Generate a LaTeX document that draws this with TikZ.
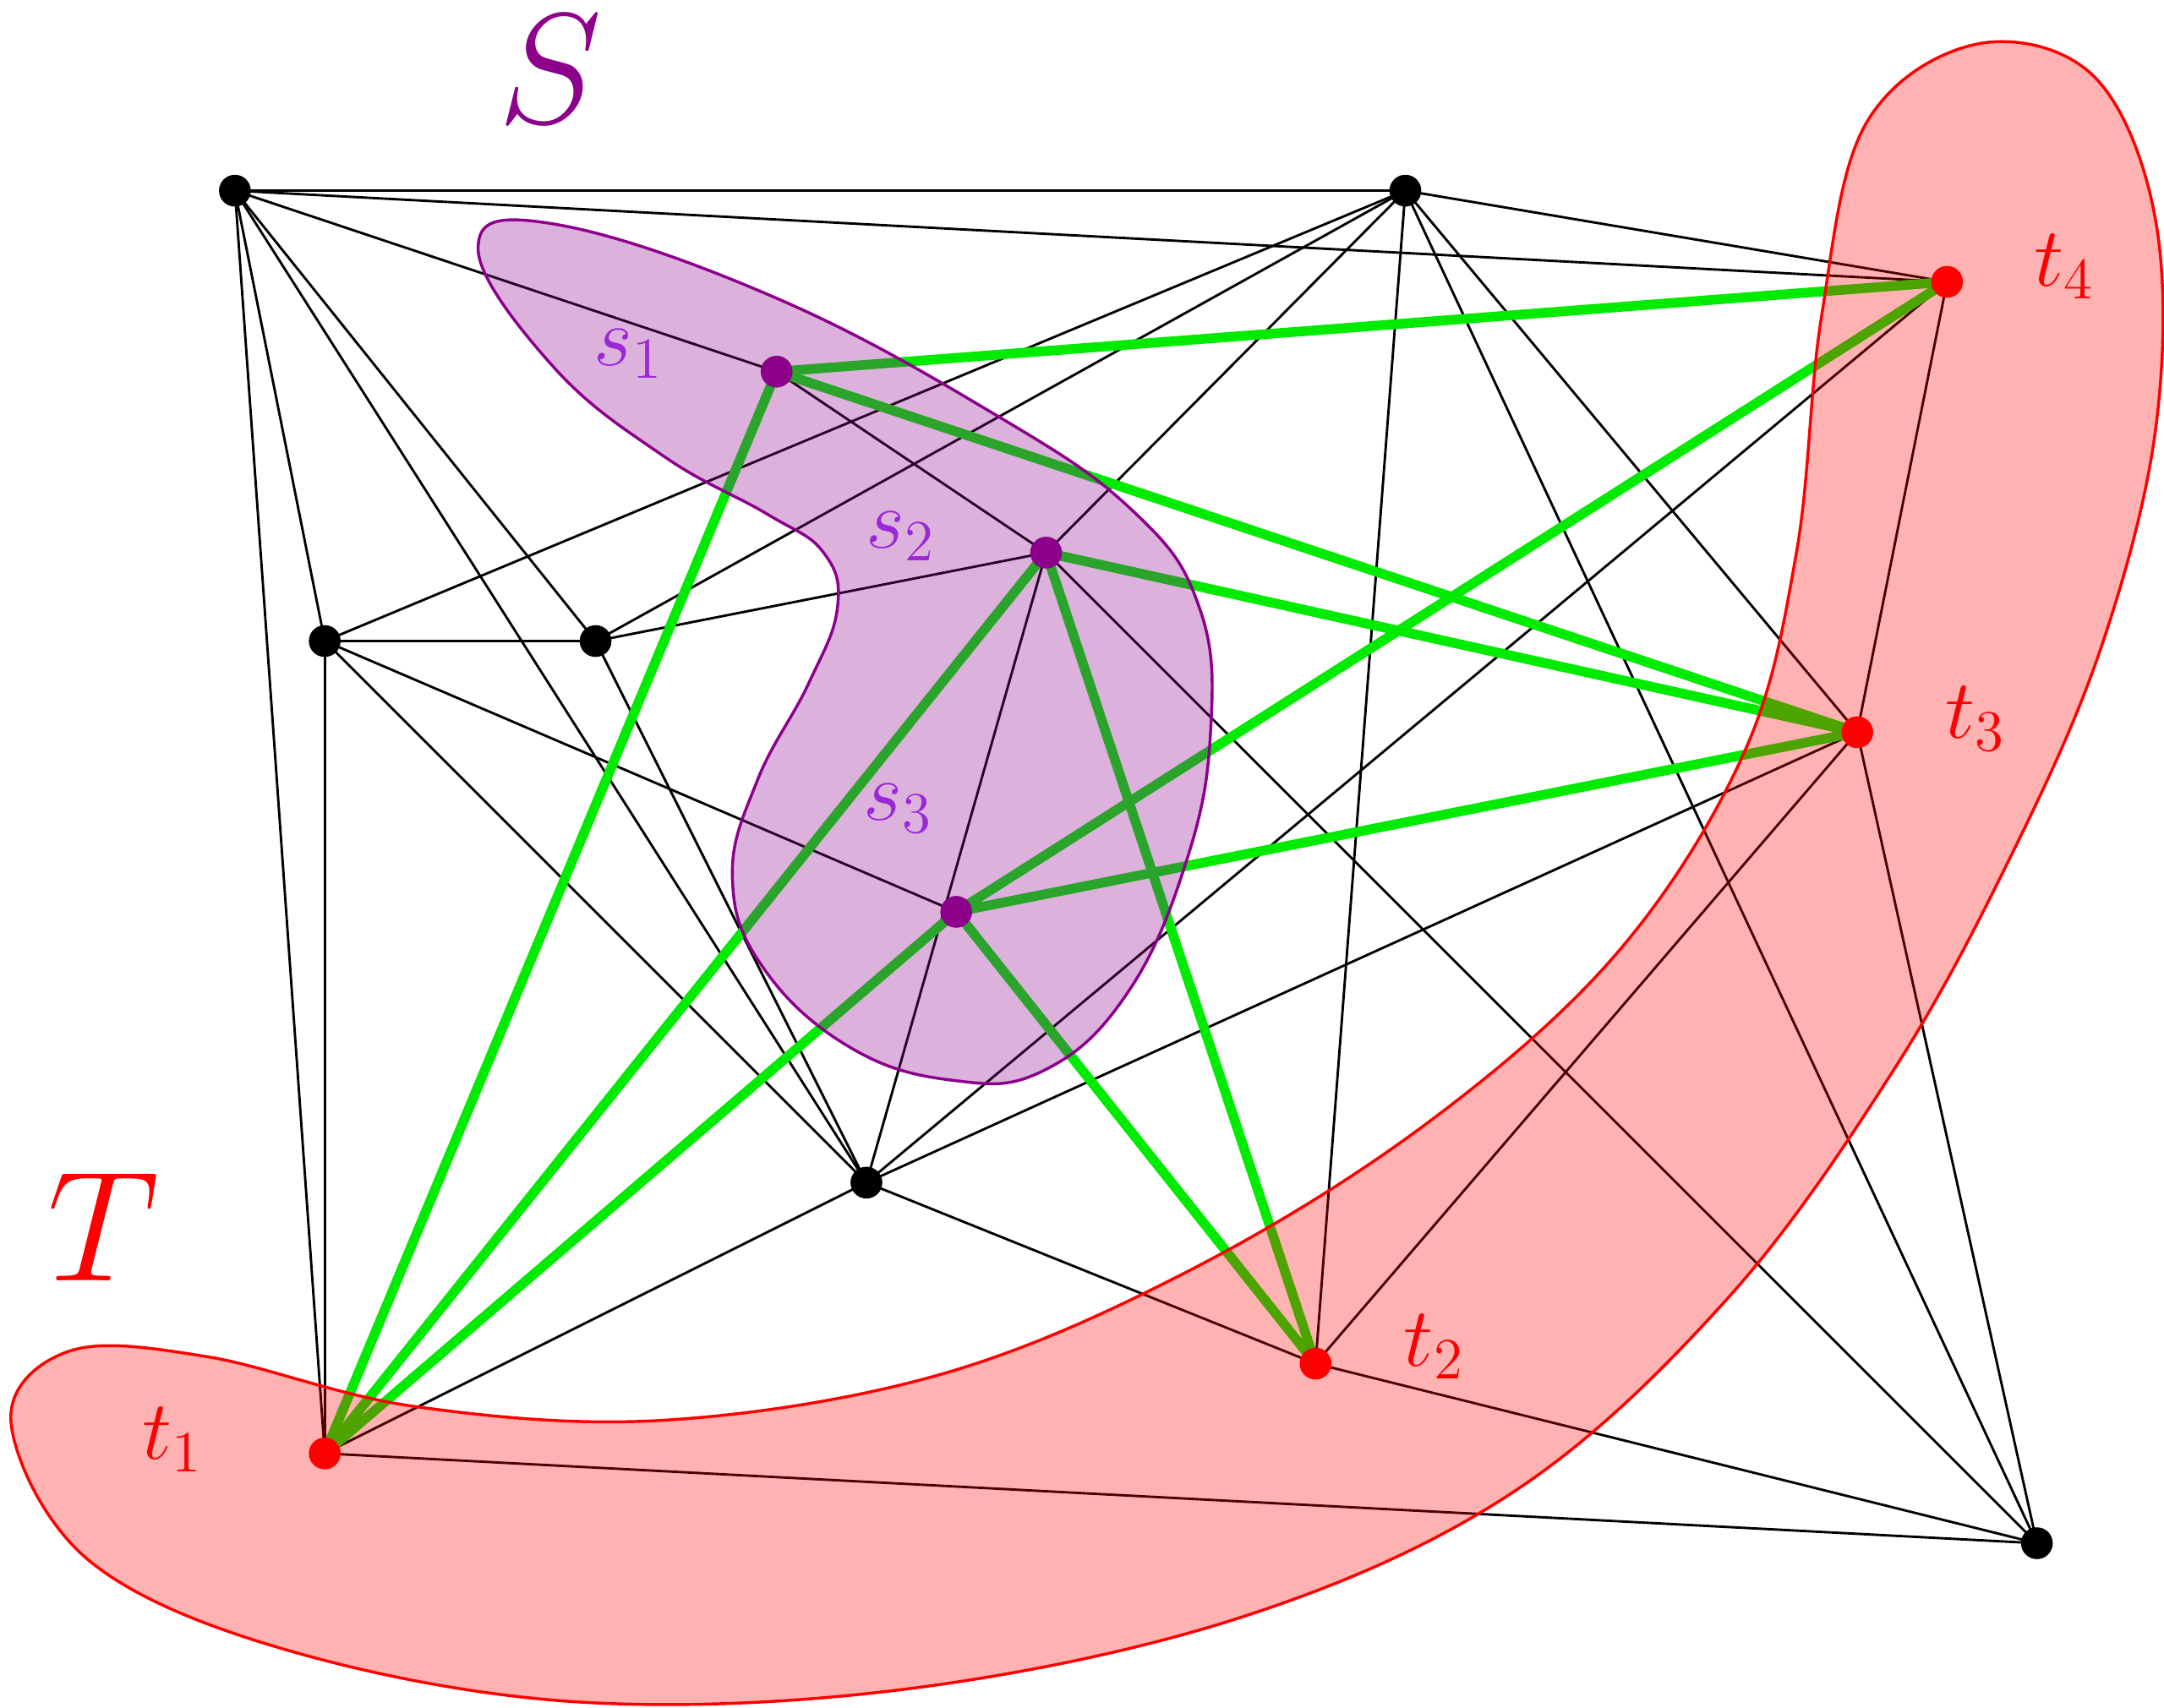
\documentclass[tikz,border=0pt]{standalone}
\usepackage{amsmath}
\usepackage{tikz}
\usetikzlibrary{positioning,calc}
\definecolor{sviolet}{RGB}{140,0,140}
\definecolor{slabel}{RGB}{155,40,215}
\definecolor{tgreen}{RGB}{0,235,0}
\tikzset{
	vert/.style={circle,inner sep=0,fill=black,minimum size=.23cm},
	svert/.style={vert,fill=sviolet},
	tvert/.style={vert,fill=red},
	edge/.style={color=black, line width=.5pt},
	gedge/.style={color=tgreen, line width=2pt},
	slab/.style={text=slabel,font=\LARGE},
	tlab/.style={text=red,font=\LARGE}
}

\begin{document}
\begin{tikzpicture}[x=0.01cm,y=-0.01cm]
	\useasboundingbox (0,0) rectangle (1566,1236);

	%%vertices
	\coordinate (a) at (170,138);
	\coordinate (b) at (1017,138);
	\coordinate (c) at (235,464);
	\coordinate (d) at (431,464);
	\coordinate (e) at (627,856);
	\coordinate (f) at (1474,1117);
	\coordinate (s1) at (562,269);
	\coordinate (s2) at (757,400);
	\coordinate (s3) at (692,660);
	\coordinate (t1) at (235,1052);
	\coordinate (t2) at (952,987);
	\coordinate (t3) at (1344,530);
	\coordinate (t4) at (1409,204);

	%%black edges
	\draw[edge] (a) -- (b);
	\draw[edge] (a) -- (t4);
	\draw[edge] (a) -- (s1) -- (s2);
	\draw[edge] (a) -- (c);
	\draw[edge] (a) -- (d);
	\draw[edge] (a) -- (e);
	\draw[edge] (a) -- (t1);
	\draw[edge] (b) -- (t4);
	\draw[edge] (b) -- (c);
	\draw[edge] (b) -- (d);
	\draw[edge] (b) -- (s2);
	\draw[edge] (b) -- (t2);
	\draw[edge] (b) -- (t3);
	\draw[edge] (b) -- (f);
	\draw[edge] (c) -- (d);
	\draw[edge] (c) -- (t1);
	\draw[edge] (c) -- (e);
	\draw[edge] (c) -- (s3);
	\draw[edge] (d) -- (s2);
	\draw[edge] (d) -- (e);
	\draw[edge] (e) -- (s2);
	\draw[edge] (e) -- (t1);
	\draw[edge] (e) -- (t2);
	\draw[edge] (e) -- (t3);
	\draw[edge] (e) -- (t4);
	\draw[edge] (s2) -- (f);
	\draw[edge] (t1) -- (f);
	\draw[edge] (t2) -- (f);
	\draw[edge] (t2) -- (t3);
	\draw[edge] (t3) -- (f);
	\draw[edge] (t3) -- (t4);

	%%green edges
	\foreach \s/\t in {s1/t1,s1/t4,s1/t3,s2/t1,s2/t3,s2/t2,s3/t1,s3/t4,s3/t3,s3/t2}
		\draw[gedge] (\s) -- (\t);

	%%set S
	\draw[sviolet,fill=sviolet,fill opacity=.3,line width=.6pt] plot[smooth cycle,tension=.7] coordinates {
		(346,180) (400,162) (560,215) (720,300) (820,370) (868,440) (876,530)
		(858,625) (815,720) (755,775) (690,782) (615,758) (552,700) (530,635)
		(548,565) (585,495) (606,440) (596,400) (555,372) (480,330) (400,265)};

	%%set T
	\draw[red,fill=red,fill opacity=.3,line width=.6pt] plot[smooth cycle,tension=.6] coordinates {
		(8,1030) (50,978) (150,982) (300,1018) (480,1028) (680,995) (860,920)
		(1030,815) (1170,690) (1262,545) (1300,400) (1318,230) (1350,90)
		(1430,32) (1515,55) (1560,160) (1560,310) (1520,470) (1455,620)
		(1370,775) (1250,940) (1095,1080) (900,1170) (660,1222) (420,1232)
		(210,1195) (65,1130)};

	%%dots
	\foreach \v in {a,b,c,d,e,f}
		\node[vert] (n\v) at (\v) {};
	\foreach \v in {s1,s2,s3}
		\node[svert] (n\v) at (\v) {};
	\foreach \v in {t1,t2,t3,t4}
		\node[tvert] (n\v) at (\v) {};

	%%labels
	\node[slab] (ls1) at (455,256) {$s_1$};
	\node[slab] (ls2) at (652,388) {$s_2$};
	\node[slab] (ls3) at (650,585) {$s_3$};
	\node[tlab] (lt1) at (125,1042) {$t_1$};
	\node[tlab] (lt2) at (1038,975) {$t_2$};
	\node[tlab] (lt3) at (1430,520) {$t_3$};
	\node[tlab] (lt4) at (1494,193) {$t_4$};
	\node[text=sviolet,font=\Huge] (ls) at (398,50) {\scalebox{1.3}{$S$}};
	\node[text=red,font=\Huge] (lt) at (75,888) {\scalebox{1.3}{$T$}};
\end{tikzpicture}
\end{document}
